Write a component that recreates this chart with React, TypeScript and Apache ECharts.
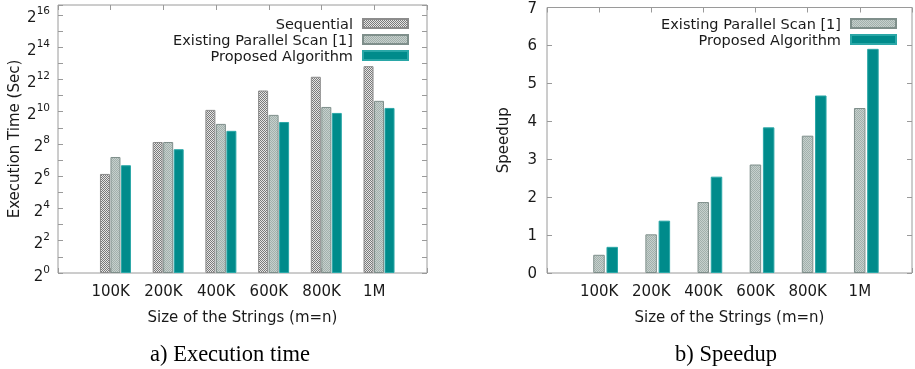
import { useEffect, useRef } from "react";
import * as echarts from "echarts";

const categories = ["100K", "200K", "400K", "600K", "800K", "1M"];
// Execution time in seconds (left chart, log2 axis)
const sequentialSec = [70.5, 278, 1105, 2540, 4580, 7230];
const existingSec = [146, 278, 605, 891, 1252, 1629];
const proposedSec = [102.5, 204, 449, 657, 969, 1201];
// Speedup (right chart)
const existingSpeedup = [0.48, 1.02, 1.87, 2.86, 3.62, 4.35];
const proposedSpeedup = [0.69, 1.38, 2.54, 3.84, 4.68, 5.91];

const SEQ = "Sequential";
const EXI = "Existing Parallel Scan [1]";
const PRO = "Proposed Algorithm";

function makePattern(base: string, dot: string) {
  const c = document.createElement("canvas");
  c.width = 2;
  c.height = 2;
  const ctx = c.getContext("2d")!;
  ctx.fillStyle = base;
  ctx.fillRect(0, 0, 2, 2);
  ctx.fillStyle = dot;
  ctx.fillRect(0, 0, 1, 1);
  ctx.fillRect(1, 1, 1, 1);
  return { image: c, repeat: "repeat" };
}

const FONT = "DejaVu Sans";
const FS = 15;
const LFS = 14.5;
const AX = "#9a9a9a";
const TXT = "#1a1a1a";

export default function App() {
  const ref = useRef<HTMLDivElement>(null);
  useEffect(() => {
    if (!ref.current) return;
    const chart = echarts.init(ref.current, undefined, { renderer: "svg" });
    const seqFill = makePattern("#e6e6e6", "#7a7a7a");
    const exiFill = makePattern("#c6d0cd", "#a2b0ac");
    const proFill = "#008b8b";

    const xCat = (gridIndex: number, pos: "bottom" | "top", labels: boolean) => ({
      type: "value",
      gridIndex,
      position: pos,
      min: -1,
      max: 6,
      interval: 1,
      axisLine: { show: false, onZero: false },
      axisTick: { show: true, inside: true, length: 5, lineStyle: { color: AX } },
      splitLine: { show: false },
      axisLabel: {
        show: labels,
        margin: 10,
        fontSize: FS,
        fontFamily: FONT,
        color: TXT,
        formatter: (v: number) => categories[Math.round(v)] ?? "",
      },
      name: labels ? "Size of the Strings (m=n)" : "",
      nameLocation: "middle",
      nameGap: 36,
      nameTextStyle: { fontSize: FS, fontFamily: FONT, color: TXT },
    });
    const xBars = (gridIndex: number, shift: number) => ({
      type: "value",
      gridIndex,
      min: -1 - shift,
      max: 6 - shift,
      show: false,
      axisLine: { onZero: false },
    });

    const logLabel = (v: number) => {
      const l = Math.log2(v);
      const e = Math.round(l);
      if (Math.abs(l - e) > 1e-6 || e % 2 !== 0) return "";
      return `{b|2}{s|${e}}`;
    };
    const yLog = (pos: "left" | "right", labels: boolean) => ({
      type: "log",
      logBase: 2,
      gridIndex: 0,
      position: pos,
      min: 1,
      max: 100000,
      interval: 1,
      axisLine: { show: false, onZero: false },
      axisTick: { show: true, inside: true, length: 5, lineStyle: { color: AX } },
      splitLine: { show: false },
      axisLabel: {
        show: labels,
        margin: 8,
        formatter: logLabel,
        rich: {
          b: { fontSize: FS, fontFamily: FONT, color: TXT, lineHeight: 20, verticalAlign: "bottom", padding: [3, 0, 0, 0] },
          s: { fontSize: 10.5, fontFamily: FONT, color: TXT, lineHeight: 10, verticalAlign: "top" },
        },
      },
      name: labels ? "Execution Time (Sec)" : "",
      nameLocation: "middle",
      nameGap: 37,
      nameTextStyle: { fontSize: FS, fontFamily: FONT, color: TXT },
    });
    const yLin = (pos: "left" | "right", labels: boolean) => ({
      type: "value",
      gridIndex: 1,
      position: pos,
      min: 0,
      max: 7,
      interval: 1,
      axisLine: { show: false, onZero: false },
      axisTick: { show: true, inside: true, length: 5, lineStyle: { color: AX } },
      splitLine: { show: false },
      axisLabel: { show: labels, margin: 10, fontSize: FS, fontFamily: FONT, color: TXT },
      name: labels ? "Speedup" : "",
      nameLocation: "middle",
      nameGap: 37,
      nameTextStyle: { fontSize: FS, fontFamily: FONT, color: TXT },
    });

    const pts = (vals: number[]) => vals.map((v, i) => [i, v]);
    const seqStyle = { color: seqFill, borderColor: "#8c8c8c", borderWidth: 1 };
    const exiStyle = { color: exiFill, borderColor: "#7f8f8b", borderWidth: 1 };
    const proStyle = { color: proFill, borderColor: "#2aa7a7", borderWidth: 1 };

    const legendBase = {
      orient: "vertical",
      align: "right",
      top: 11,
      itemWidth: 45,
      itemHeight: 9,
      itemGap: 1,
      icon: "rect",
      selectedMode: false,
      textStyle: { fontSize: LFS, fontFamily: FONT, color: TXT, lineHeight: 15, padding: [0, 5, 0, 0] },
    };

    chart.setOption({
      animation: false,
      grid: [
        { left: 58, top: 5, width: 369, height: 268, show: true, borderColor: AX, borderWidth: 1, backgroundColor: "transparent" },
        { left: 547, top: 6, width: 367, height: 267, show: true, borderColor: AX, borderWidth: 1, backgroundColor: "transparent" },
      ],
      xAxis: [
        xCat(0, "bottom", true),
        xCat(0, "top", false),
        xBars(0, 0.09),
        xCat(1, "bottom", true),
        xCat(1, "top", false),
        xBars(1, 0.124),
      ],
      yAxis: [yLog("left", true), yLog("right", false), yLin("left", true), yLin("right", false)],
      legend: [
        { ...legendBase, right: 501, data: [SEQ, EXI, PRO] },
        { ...legendBase, right: 13, data: [EXI, PRO] },
      ],
      series: [
        { type: "bar", name: SEQ, xAxisIndex: 2, yAxisIndex: 0, data: pts(sequentialSec), barWidth: 10, barGap: "5%", itemStyle: seqStyle },
        { type: "bar", name: EXI, xAxisIndex: 2, yAxisIndex: 0, data: pts(existingSec), barWidth: 10, barGap: "5%", itemStyle: exiStyle },
        { type: "bar", name: PRO, xAxisIndex: 2, yAxisIndex: 0, data: pts(proposedSec), barWidth: 10, barGap: "5%", itemStyle: proStyle },
        { type: "bar", name: EXI, xAxisIndex: 5, yAxisIndex: 2, data: pts(existingSpeedup), barWidth: 11.5, barGap: "15%", itemStyle: exiStyle },
        { type: "bar", name: PRO, xAxisIndex: 5, yAxisIndex: 2, data: pts(proposedSpeedup), barWidth: 11.5, barGap: "15%", itemStyle: proStyle },
      ],
      graphic: [
        {
          type: "text",
          x: 230,
          y: 353,
          style: { text: "a) Execution time", font: '22.5px "Liberation Serif"', fill: "#000", align: "center", verticalAlign: "middle", textAlign: "center", textVerticalAlign: "middle" },
        },
        {
          type: "text",
          x: 726,
          y: 353,
          style: { text: "b) Speedup", font: '22.5px "Liberation Serif"', fill: "#000", align: "center", verticalAlign: "middle", textAlign: "center", textVerticalAlign: "middle" },
        },
      ],
    } as any);
    return () => chart.dispose();
  }, []);
  return <div ref={ref} style={{ position: "fixed", left: 0, top: 0, width: 915, height: 369 }} />;
}
